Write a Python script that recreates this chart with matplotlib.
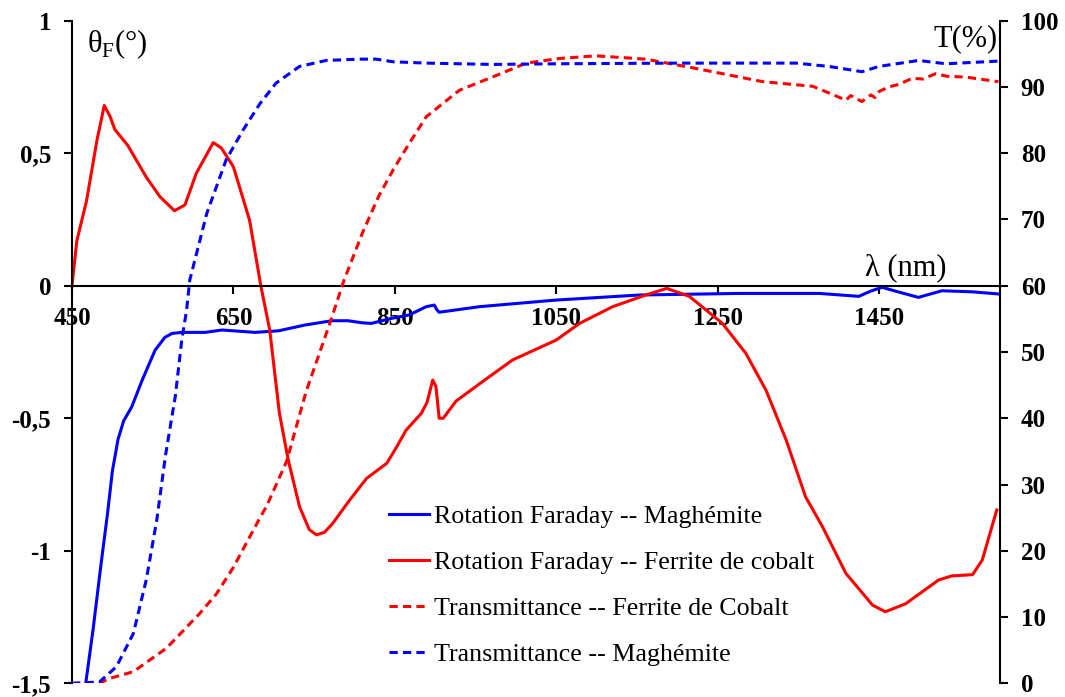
import numpy as np
import matplotlib
matplotlib.use("Agg")
import matplotlib.pyplot as plt

plt.rcParams['font.family'] = ['Liberation Serif', 'DejaVu Serif']
plt.rcParams['mathtext.fontset'] = 'custom'
plt.rcParams['mathtext.rm'] = 'Liberation Serif'

# Faraday rotation, cobalt ferrite (deg)
fr_co_x = [450, 456, 468, 481, 490, 497, 503, 519, 542, 559, 577, 590, 604, 625, 635,
           650, 670, 684, 695, 707, 718, 732, 744, 753, 763, 773, 794, 815, 840, 852,
           864, 883, 890, 897, 901, 905, 910, 926, 955, 996, 1050, 1079, 1120, 1161,
           1187, 1215, 1256, 1285, 1310, 1335, 1359, 1380, 1409, 1442, 1458, 1483,
           1524, 1540, 1566, 1578, 1596]
fr_co_y = [0, 0.17, 0.32, 0.55, 0.68, 0.64, 0.59, 0.53, 0.41, 0.336, 0.283, 0.305, 0.424,
           0.54, 0.52, 0.449, 0.248, 0.0, -0.167, -0.48, -0.658, -0.834, -0.92, -0.94,
           -0.93, -0.897, -0.809, -0.727, -0.67, -0.61, -0.545, -0.481, -0.44, -0.356,
           -0.38, -0.5, -0.5, -0.435, -0.37, -0.28, -0.205, -0.142, -0.079, -0.035,
           -0.01, -0.04, -0.142, -0.255, -0.394, -0.582, -0.796, -0.909, -1.085,
           -1.205, -1.23, -1.2, -1.11, -1.095, -1.09, -1.035, -0.846]

# Faraday rotation, maghemite (deg)
fr_mg_x = [467, 476, 486, 494, 500, 507, 514, 524, 537, 553, 565, 574, 586, 615, 636,
           677, 706, 739, 772, 792, 810, 821, 846, 868, 889, 899, 902, 905, 955, 1050,
           1153, 1277, 1376, 1425, 1440, 1454, 1470, 1499, 1515, 1528, 1566, 1598]
fr_mg_y = [-1.5, -1.3, -1.05, -0.86, -0.7, -0.58, -0.51, -0.457, -0.356, -0.243, -0.195,
           -0.18, -0.176, -0.176, -0.167, -0.176, -0.17, -0.148, -0.132, -0.132, -0.14,
           -0.142, -0.123, -0.11, -0.079, -0.073, -0.09, -0.1, -0.079, -0.054, -0.035,
           -0.029, -0.029, -0.04, -0.02, -0.006, -0.02, -0.044, -0.03, -0.019, -0.023,
           -0.031]

# Transmittance, cobalt ferrite (%)
tr_co_x = [450, 484, 497, 526, 567, 608, 629, 650, 683, 691, 716, 740, 770, 787, 810,
           830, 848, 868, 889, 930, 971, 1013, 1054, 1099, 1161, 1223, 1306, 1368, 1390,
           1409, 1415, 1421, 1429, 1440, 1445, 1450, 1462, 1475, 1491, 1505, 1520, 1535,
           1557, 1598]
tr_co_y = [0, 0, 0.75, 1.75, 5.3, 10.5, 13.5, 17.5, 25, 26.7, 33.5, 44, 54.5, 60.8, 68,
           73.5, 77.5, 81.5, 85.5, 89.5, 91.5, 93.6, 94.3, 94.7, 94.2, 92.8, 90.8, 90.1,
           89, 88, 88.7, 88.3, 87.8, 88.8, 88.4, 89.3, 90, 90.4, 91.3, 91.2, 92, 91.6,
           91.5, 90.8]

# Transmittance, maghemite (%)
tr_mg_x = [450, 484, 505, 526, 542, 555, 566, 578, 586, 592, 596, 617, 641, 662, 683,
           703, 732, 765, 806, 827, 848, 889, 971, 1054, 1202, 1347, 1388, 1429, 1450,
           1499, 1533, 1598]
tr_mg_y = [0, 0.2, 2.5, 7.5, 15.6, 24.6, 34.5, 43.3, 51.8, 56.3, 60.9, 70.9, 79, 83.5,
           87.5, 90.6, 93.1, 94, 94.2, 94.2, 93.8, 93.6, 93.4, 93.5, 93.6, 93.6, 93.1,
           92.3, 93.1, 94, 93.5, 93.9]

xticks = [450, 650, 850, 1050, 1250, 1450]
yticks_l = [-1.5, -1, -0.5, 0, 0.5, 1]
yticks_l_lab = ["-1,5", "-1", "-0,5", "0", "0,5", "1"]
yticks_r = list(range(0, 101, 10))

fsz = 18
lw = 2.2
dash = (0, (2.7, 1.7))

fig = plt.figure(figsize=(10.65, 6.97), dpi=100)
ax = fig.add_axes([72/1065, 1-683.3/697, 928/1065, 662.6/697])
bx = ax.twinx()

l1, = ax.plot(fr_mg_x, fr_mg_y, color="#0000FF", lw=lw, label="Rotation Faraday -- Maghémite")
l2, = ax.plot(fr_co_x, fr_co_y, color="#FF0000", lw=lw, label="Rotation Faraday -- Ferrite de cobalt")
l3, = bx.plot(tr_co_x, tr_co_y, color="#FF0000", lw=lw, ls=dash, label="Transmittance -- Ferrite de Cobalt")
l4, = bx.plot(tr_mg_x, tr_mg_y, color="#0000FF", lw=lw, ls=dash, label="Transmittance -- Maghémite")

ax.set_xlim(450, 1600)
ax.set_ylim(-1.5, 1)
bx.set_ylim(0, 100)

for a in (ax, bx):
    a.spines['top'].set_visible(False)
    for s in a.spines.values():
        s.set_linewidth(1.5)
ax.spines['right'].set_visible(False)
bx.spines['left'].set_visible(False)
bx.spines['bottom'].set_visible(False)
ax.spines['bottom'].set_position(('data', 0))

ax.set_xticks(xticks)
ax.set_xticklabels([str(v) for v in xticks], fontweight='bold', fontsize=fsz)
ax.set_yticks(yticks_l)
ax.set_yticklabels(yticks_l_lab, fontweight='bold', fontsize=fsz)
bx.set_yticks(yticks_r)
bx.set_yticklabels([str(v) for v in yticks_r], fontweight='bold', fontsize=fsz)
ax.tick_params(axis='y', direction='out', length=6, width=1.5, pad=9)
ax.tick_params(axis='x', direction='out', length=6, width=1.5, pad=9)
bx.tick_params(direction='out', length=6, width=1.5, pad=9)

ax.text(0.016, 0.99, r"θ$_{\mathrm{F}}$(°)", transform=ax.transAxes, fontsize=22,
        ha='left', va='top')
bx.text(0.997, 0.995, "T(%)", transform=bx.transAxes, fontsize=22, ha='right', va='top')
ax.text(1483, 0.015, "λ (nm)", fontsize=22, ha='center', va='bottom')

leg = ax.legend(handles=[l1, l2, l3, l4], loc='upper left', bbox_to_anchor=(0.33, 0.285),
                frameon=False, fontsize=18.7, handlelength=1.55, handletextpad=0.2,
                labelspacing=0.88, borderaxespad=0)

fig.savefig("out.png", dpi=100)
